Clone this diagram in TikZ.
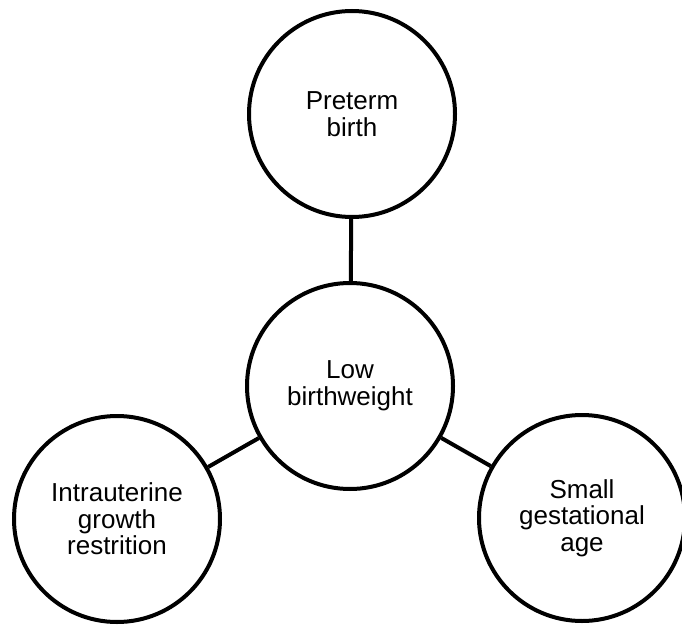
\documentclass[tikz,border=0pt]{standalone}
\usepackage{fontspec}
\setmainfont{Liberation Sans}
\begin{document}
\begin{tikzpicture}[x=1pt,y=1pt,
  concept/.style={circle,draw=black,line width=4pt,fill=white,inner sep=0pt,
    minimum size=206pt,align=center,font=\fontsize{26}{26.5}\selectfont},
  link/.style={draw=black,line width=4pt}]
  \useasboundingbox (0,0) rectangle (682,625);
  \node[concept] (low)   at (350,239) {Low\\birthweight};
  \node[concept] (pre)   at (352,511) {Preterm\\birth};
  \node[concept] (iugr)  at (117,106) {Intrauterine\\growth\\restrition};
  \node[concept] (sga)   at (582,107) {Small\\gestational\\age};
  \draw[link] (low) -- (pre);
  \draw[link] (low) -- (iugr);
  \draw[link] (low) -- (sga);
\end{tikzpicture}
\end{document}
